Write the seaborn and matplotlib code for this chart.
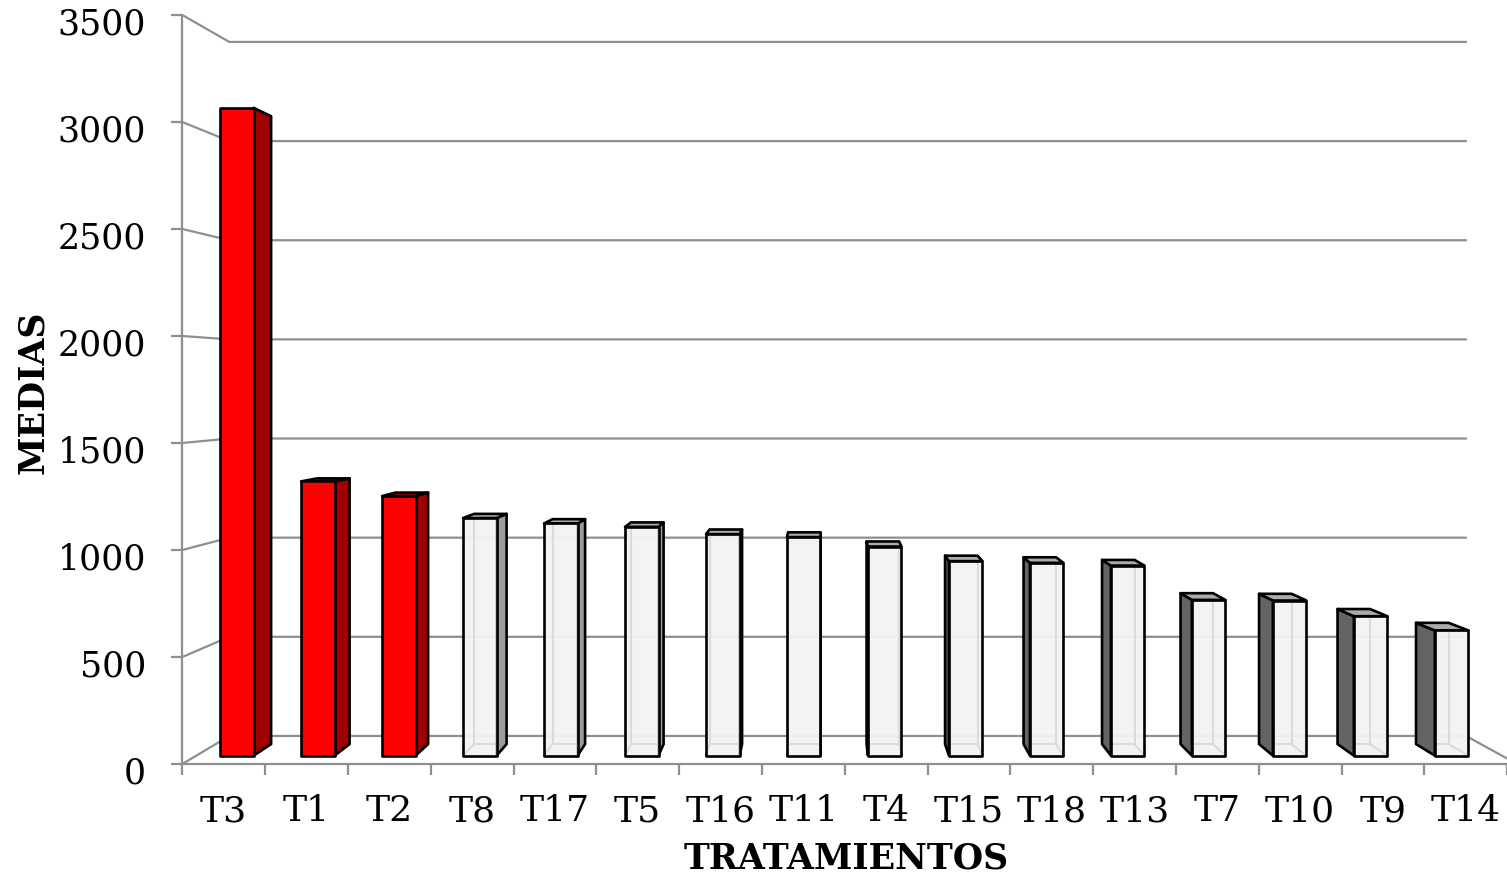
import matplotlib
matplotlib.use("Agg")
import matplotlib.pyplot as plt
import numpy as np
import pandas as pd
import seaborn as sns
from matplotlib.transforms import Affine2D, IdentityTransform, ScaledTranslation
from matplotlib.patches import Polygon
from matplotlib.lines import Line2D
from matplotlib.ticker import FixedLocator, NullFormatter

# ---- data -------------------------------------------------------------
tratamientos = ["T3", "T1", "T2", "T8", "T17", "T5", "T16", "T11",
                "T4", "T15", "T18", "T13", "T7", "T10", "T9", "T14"]
medias = [3095, 1310, 1240, 1135, 1109, 1093, 1058, 1044,
          999, 929, 921, 908, 744, 741, 666, 598]
destacados = ["T3", "T1", "T2"]
y_ticks = [0, 500, 1000, 1500, 2000, 2500, 3000, 3500]

df = pd.DataFrame({"tratamiento": tratamientos, "media": medias})

# ---- style ------------------------------------------------------------
sns.set_style("white")
plt.rcParams["font.family"] = ["DejaVu Serif"]
plt.rcParams["text.color"] = "black"

W, H = 1507, 878
fig = plt.figure(figsize=(W / 100, H / 100), dpi=100)
ax = fig.add_axes([182.3 / W, (H - 765) / H, 1324.8 / W, 749 / H])

GRAY = "#8f8f8f"
RED, RED_DARK = "#ff0000", "#a00000"
WHITE = "#f2f2f2"
LW = 1.9
GLW = 1.6

palette = {t: (RED if t in destacados else WHITE) for t in tratamientos}
sns.barplot(data=df, x="tratamiento", y="media", hue="tratamiento",
            palette=palette, order=tratamientos, width=0.414,
            edgecolor="black", linewidth=LW, legend=False, ax=ax,
            saturation=1)

ax.set_xlim(-0.5, 15.5)
ax.set_ylim(0, 3500)

# perspective: each depth plane is a scaled copy of the front plane
VX, VY = 823.0, H - 383.0
R_WALL, R_FRONT, R_BACK = 0.9266, 0.978, 0.948
ident = IdentityTransform()


def depth(r):
    return Affine2D().translate(-VX, -VY).scale(r).translate(VX, VY)


def to_px(x, y, r):
    p = ax.transData.transform((x, y))
    return depth(r).transform(p)


def add_line(xs, ys, **kw):
    ax.add_artist(Line2D(xs, ys, transform=ident, clip_on=False, **kw))


def add_poly(pts, **kw):
    ax.add_artist(Polygon(pts, closed=True, transform=ident, clip_on=False,
                          **kw))


# back wall, left wall and floor lines
x_end = 15.62
for v in y_ticks:
    a = to_px(-0.5, v, R_WALL)
    b = to_px(x_end, v, R_WALL)
    f = to_px(-0.5, v, 1.0)
    add_line([f[0], a[0], b[0]], [f[1], a[1], b[1]], color=GRAY, lw=GLW,
             zorder=1)
fr = to_px(x_end, 0, 1.0)
br = to_px(x_end, 0, R_WALL)
add_line([br[0], fr[0]], [br[1], fr[1]], color=GRAY, lw=GLW, zorder=1)

# bars: front face from seaborn, plus side/top faces in depth
for patch, t in zip(ax.patches, tratamientos):
    x0 = patch.get_x()
    x1 = x0 + patch.get_width()
    y1 = patch.get_height()
    red = t in destacados
    fbl, fbr = to_px(x0, 0, R_FRONT), to_px(x1, 0, R_FRONT)
    ftl, ftr = to_px(x0, y1, R_FRONT), to_px(x1, y1, R_FRONT)
    bbl, bbr = to_px(x0, 0, R_BACK), to_px(x1, 0, R_BACK)
    btl, btr = to_px(x0, y1, R_BACK), to_px(x1, y1, R_BACK)

    patch.set_transform(ax.transData + depth(R_FRONT))
    patch.set_clip_on(False)
    patch.set_zorder(6)
    patch.set_joinstyle("round")
    if not red:
        patch.set_facecolor((0.94, 0.94, 0.94, 0.8))

    if fbr[0] < VX - 2:
        side = [fbr, ftr, btr, bbr]
        hidden = [[fbl, bbl], [bbl, btl], [bbl, bbr]]
        side_col = RED_DARK if red else "#9c9c9c"
    elif fbl[0] > VX + 2:
        side = [fbl, ftl, btl, bbl]
        hidden = [[fbr, bbr], [bbr, btr], [bbr, bbl]]
        side_col = RED_DARK if red else "#646464"
    else:
        side = None
        hidden = [[bbl, bbr], [bbl, btl], [bbr, btr]]

    if side is not None:
        add_poly(side, facecolor=side_col, edgecolor="black", lw=LW,
                 zorder=5, joinstyle="round")
    if ftl[1] < VY:
        top_col = RED_DARK if red else "#ababab"
        add_poly([ftl, ftr, btr, btl], facecolor=top_col, edgecolor="black",
                 lw=LW, zorder=5, joinstyle="round")
    if not red:
        # white backing: walls only faintly seen through the glass face
        add_poly([fbl, fbr, ftr, ftl], facecolor="white", alpha=0.75,
                 edgecolor="none", zorder=3)
        for seg in hidden:
            add_line([seg[0][0], seg[1][0]], [seg[0][1], seg[1][1]],
                     color="#8a8a8a", lw=1.5, zorder=4)

# axes frame
for s in ("top", "right"):
    ax.spines[s].set_visible(False)
for s in ("left", "bottom"):
    ax.spines[s].set_color(GRAY)
    ax.spines[s].set_linewidth(GLW)
    ax.spines[s].set_zorder(1)
ax.patch.set_visible(False)

ax.set_yticks(y_ticks)
ax.set_yticklabels([str(v) for v in y_ticks])
ax.tick_params(axis="y", direction="out", length=8, width=GLW, color=GRAY,
               pad=18, labelsize=25, labelcolor="black", left=True)
for lbl in ax.get_yticklabels():
    lbl.set_transform(lbl.get_transform()
                      + ScaledTranslation(0, -5 / 100, fig.dpi_scale_trans))
ax.set_xticks(range(len(tratamientos)))
ax.set_xticklabels(tratamientos)
ax.tick_params(axis="x", which="major", length=0, pad=21, labelsize=26,
               labelcolor="black")
ax.xaxis.set_minor_locator(FixedLocator(np.arange(-0.5, 15.6, 1.0)))
ax.xaxis.set_minor_formatter(NullFormatter())
ax.tick_params(axis="x", which="minor", direction="out", length=8,
               width=GLW, color=GRAY, bottom=True)
ax.set_xlabel("")
ax.set_ylabel("")

fig.text(33 / W, 1 - 392 / H, "MEDIAS", rotation=90, ha="center",
         va="center", fontsize=25, fontweight="bold", color="black")
fig.text(846 / W, 1 - 859 / H, "TRATAMIENTOS", ha="center", va="center",
         fontsize=25, fontweight="bold", color="black")

fig.savefig("out.png", dpi=100)
